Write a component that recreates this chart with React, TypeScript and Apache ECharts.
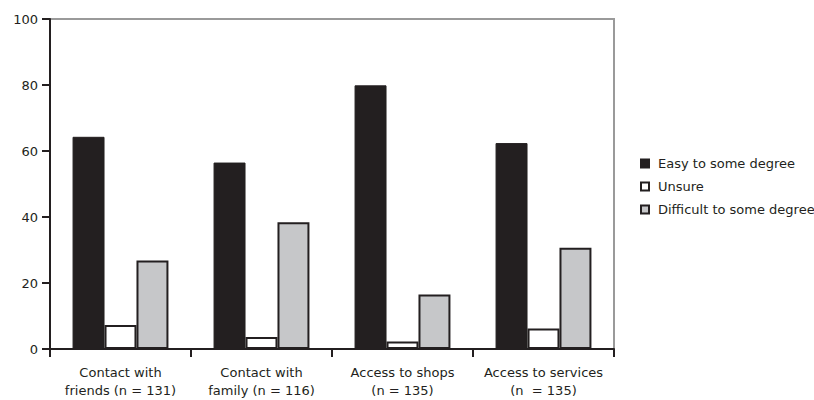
import React, { useEffect, useRef } from "react";
import * as echarts from "echarts";

const categories = [
  "Contact with\nfriends (n = 131)",
  "Contact with\nfamily (n = 116)",
  "Access to shops\n(n = 135)",
  "Access to services\n(n  = 135)",
];
const seriesNames = ["Easy to some degree", "Unsure", "Difficult to some degree"];
const easy = [64.3, 56.5, 79.9, 62.4];
const unsure = [7.3, 3.6, 2.3, 6.2];
const difficult = [26.8, 38.4, 16.5, 30.7];
const yTicks = [0, 20, 40, 60, 80, 100];

export default function App() {
  const ref = useRef<HTMLDivElement>(null);
  useEffect(() => {
    if (!ref.current) return;
    const chart = echarts.init(ref.current, undefined, { renderer: "svg" });
    const font = "DejaVu Sans";
    const dark = "#231f20";
    chart.setOption({
      animation: false,
      textStyle: { fontFamily: font },
      grid: {
        left: 50,
        right: 200,
        top: 19,
        bottom: 51,
        show: true,
        borderColor: "#9a9a9a",
        borderWidth: 2,
        backgroundColor: "transparent",
      },
      legend: {
        orient: "vertical",
        left: 635,
        top: 152,
        itemWidth: 8,
        itemHeight: 8,
        itemGap: 10,
        icon: "rect",
        textStyle: { fontFamily: font, fontSize: 13, color: dark, padding: [0, 0, 0, 4] },
        data: seriesNames,
      },
      xAxis: {
        type: "category",
        data: categories,
        axisLine: { lineStyle: { color: dark, width: 2 } },
        axisTick: { show: true, length: 8, lineStyle: { color: dark, width: 2 } },
        axisLabel: {
          color: dark,
          fontFamily: font,
          fontSize: 13,
          lineHeight: 18,
          margin: 14,
          interval: 0,
        },
      },
      yAxis: {
        type: "value",
        min: 0,
        max: 100,
        interval: 20,
        axisLine: { show: true, lineStyle: { color: dark, width: 2 } },
        axisTick: { show: true, length: 8, lineStyle: { color: dark, width: 2 } },
        splitLine: { show: false },
        axisLabel: {
          color: dark,
          fontFamily: font,
          fontSize: 13,
          margin: 12,
          formatter: (v: number) => (yTicks.includes(v) ? String(v) : ""),
        },
      },
      series: [
        {
          name: seriesNames[0],
          type: "bar",
          data: easy,
          barGap: "0%",
          barCategoryGap: "32%",
          itemStyle: { color: dark, borderColor: dark, borderWidth: 1 },
        },
        {
          name: seriesNames[1],
          type: "bar",
          data: unsure,
          itemStyle: { color: "#ffffff", borderColor: dark, borderWidth: 2 },
        },
        {
          name: seriesNames[2],
          type: "bar",
          data: difficult,
          itemStyle: { color: "#c6c7c9", borderColor: dark, borderWidth: 2 },
        },
      ],
    });
    return () => chart.dispose();
  }, []);
  return (
    <div
      ref={ref}
      style={{ position: "fixed", left: 0, top: 0, width: 814, height: 400, background: "#fff" }}
    />
  );
}
